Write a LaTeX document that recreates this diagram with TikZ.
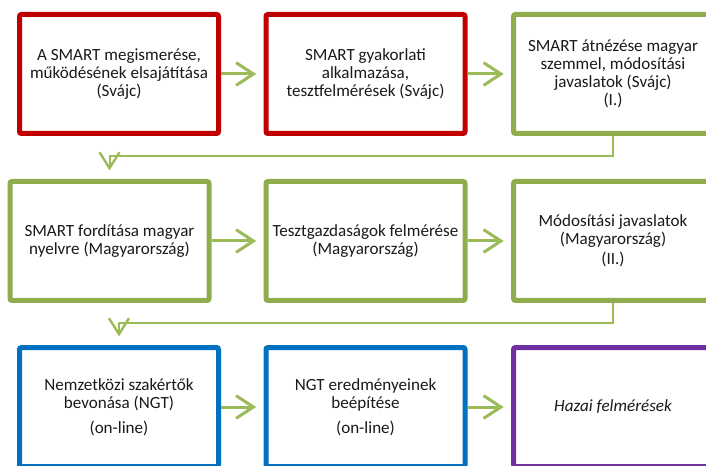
\documentclass[tikz,border=0pt]{standalone}
\usepackage{fontspec}
\setmainfont{Carlito}
\usetikzlibrary{arrows.meta}
\definecolor{cred}{HTML}{C00000}
\definecolor{cgreen}{HTML}{8FAD4C}
\definecolor{cgreenl}{HTML}{9BBB59}
\definecolor{cblue}{HTML}{0070C0}
\definecolor{cpurple}{HTML}{7030A0}
\definecolor{ctext}{HTML}{1A1A1A}
\begin{document}
\begin{tikzpicture}[x=0.75pt,y=-0.75pt,
  box/.style={draw, line width=3.75pt, rounded corners=1.5pt,
    minimum width=149.25pt, minimum height=89.25pt, inner sep=0pt,
    align=center, font=\fontsize{12.8}{13.6}\selectfont, text=ctext, fill=white},
  redbox/.style={box, draw=cred},
  greenbox/.style={box, draw=cgreen},
  bluebox/.style={box, draw=cblue},
  purplebox/.style={box, draw=cpurple},
  flow/.style={draw=cgreenl, line width=2.25pt,
    -{Straight Barb[length=13pt,width=17pt,line width=2.25pt]}, shorten >=5.5pt},
  elbow/.style={draw=cgreenl, line width=1.5pt,
    -{Straight Barb[length=12pt,width=15pt,line width=1.8pt]}, shorten >=6.4pt}]
\clip (0,0) rectangle (706,466);
\fill[white] (0,0) rectangle (706,466);

\node[redbox] (b1) at (119,74) {A SMART megismerése,\\működésének elsajátítása\\(Svájc)};
\node[redbox] (b2) at (365.5,74) {SMART gyakorlati\\alkalmazása,\\tesztfelmérések (Svájc)};
\node[greenbox] (b3) at (613,74) {SMART átnézése magyar\\szemmel, módosítási\\javaslatok (Svájc)\\(I.)};

\node[greenbox] (b4) at (109.5,241) {SMART fordítása magyar\\nyelvre (Magyarország)};
\node[greenbox] (b5) at (365.5,241) {Tesztgazdaságok felmérése\\(Magyarország)};
\node[greenbox] (b6) at (613,241) {Módosítási javaslatok\\(Magyarország)\\[1.5pt](II.)};

\node[bluebox] (b7) at (119,407) {Nemzetközi szakértők\\bevonása (NGT)\\[5pt](on-line)};
\node[bluebox] (b8) at (365.5,407) {NGT eredményeinek\\beépítése\\[5pt](on-line)};
\node[purplebox, font=\fontsize{12.8}{13.6}\selectfont\itshape] (b9) at (613,407) {Hazai felmérések};

\coordinate (k1) at (613,156);
\coordinate (k2) at (613,323);

\draw[flow] (b1.east) -- (b2.west);
\draw[flow] (b2.east) -- (b3.west);
\draw[elbow] (b3.south) -- (b3.south |- k1) -| (b4.north);
\draw[flow] (b4.east) -- (b5.west);
\draw[flow] (b5.east) -- (b6.west);
\draw[elbow] (b6.south) -- (b6.south |- k2) -| (b7.north);
\draw[flow] (b7.east) -- (b8.west);
\draw[flow] (b8.east) -- (b9.west);
\end{tikzpicture}
\end{document}
